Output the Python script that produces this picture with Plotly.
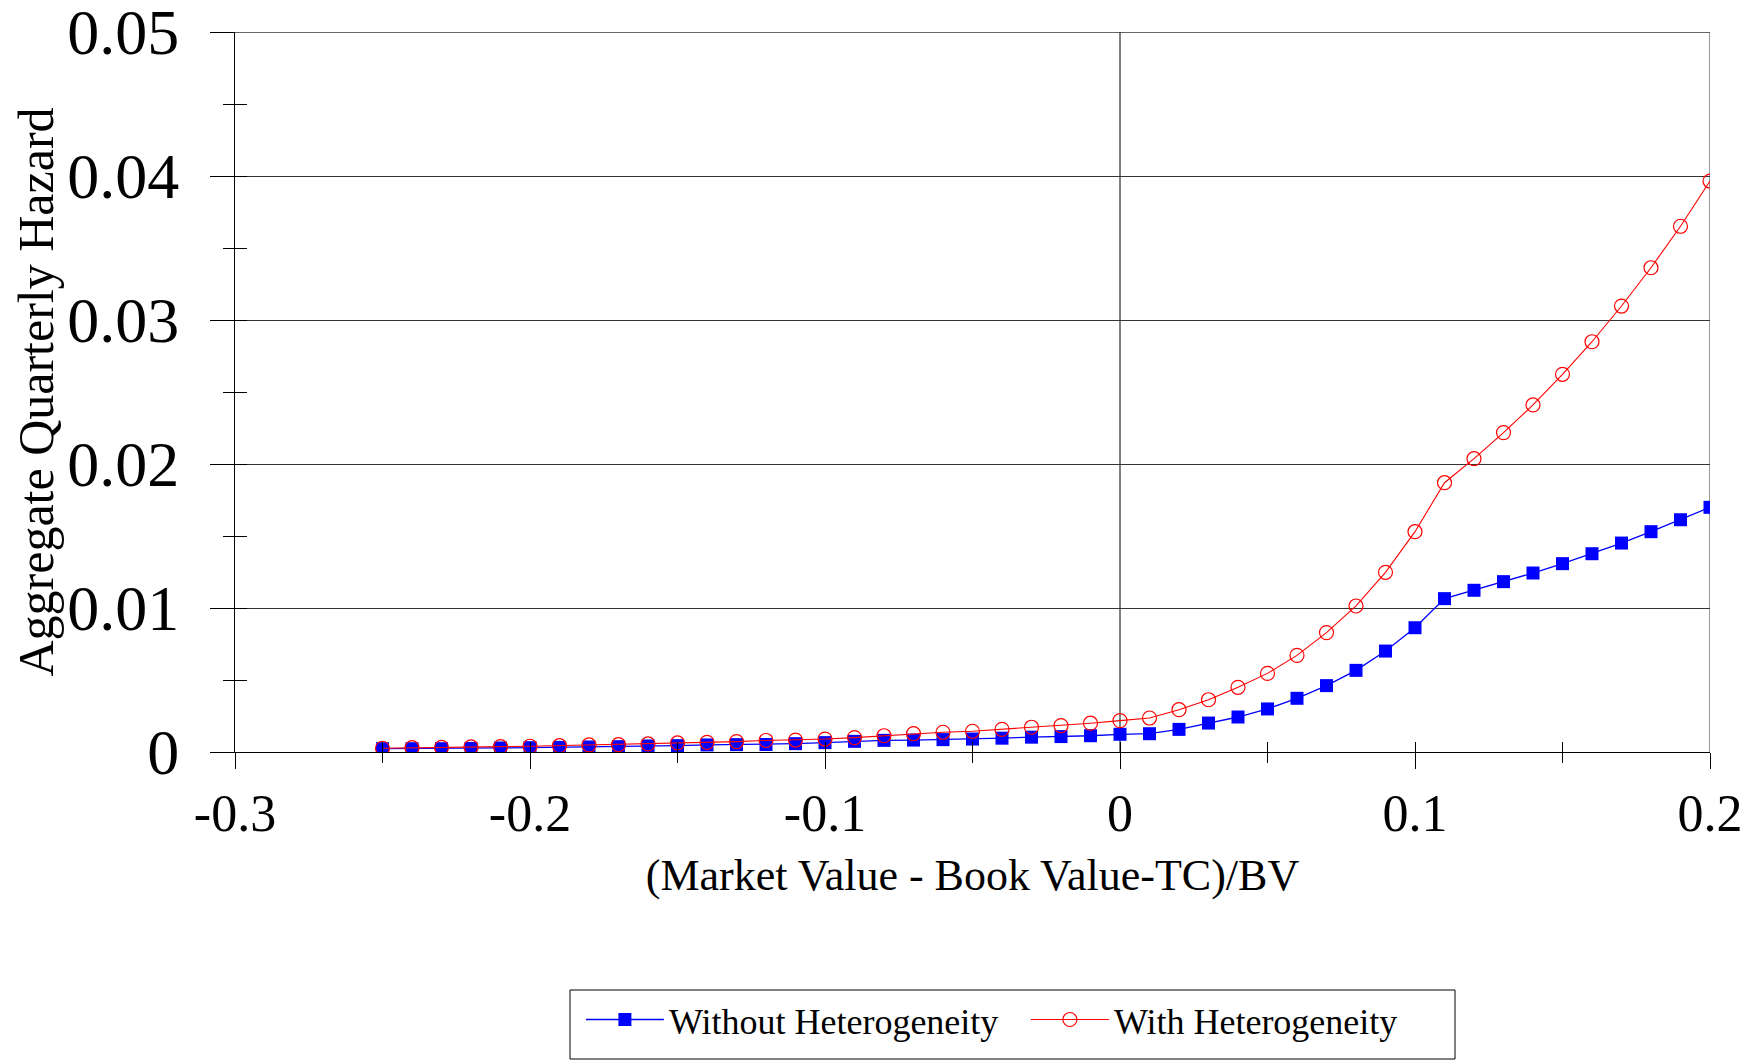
import plotly.graph_objects as go

x_vals = [-0.25, -0.24, -0.23, -0.22, -0.21, -0.20, -0.19, -0.18, -0.17, -0.16,
          -0.15, -0.14, -0.13, -0.12, -0.11, -0.10, -0.09, -0.08, -0.07, -0.06,
          -0.05, -0.04, -0.03, -0.02, -0.01, 0.00, 0.01, 0.02, 0.03, 0.04,
          0.05, 0.06, 0.07, 0.08, 0.09, 0.10, 0.11, 0.12, 0.13, 0.14,
          0.15, 0.16, 0.17, 0.18, 0.19, 0.20]

without_het = [0.00023, 0.00023, 0.00023, 0.00025, 0.00028, 0.00030, 0.00032, 0.00035, 0.00037, 0.00042,
               0.00044, 0.00049, 0.00051, 0.00052, 0.00058, 0.00065, 0.00074, 0.00081, 0.00083, 0.00086,
               0.00090, 0.00096, 0.00103, 0.00107, 0.00113, 0.00123, 0.00127, 0.00157, 0.00201, 0.00243,
               0.00299, 0.00373, 0.00461, 0.00567, 0.00701, 0.00863, 0.01065, 0.01123, 0.01183, 0.01243,
               0.01308, 0.01377, 0.01451, 0.01530, 0.01613, 0.01699]

with_het = [0.00026, 0.00030, 0.00032, 0.00035, 0.00037, 0.00040, 0.00044, 0.00049, 0.00051, 0.00056,
            0.00063, 0.00067, 0.00072, 0.00080, 0.00083, 0.00090, 0.00100, 0.00113, 0.00127, 0.00137,
            0.00144, 0.00157, 0.00172, 0.00183, 0.00200, 0.00218, 0.00236, 0.00294, 0.00363, 0.00449,
            0.00546, 0.00671, 0.00829, 0.01014, 0.01248, 0.01530, 0.01870, 0.02037, 0.02218, 0.02410,
            0.02623, 0.02849, 0.03097, 0.03363, 0.03651, 0.03965]

series_names = ["Without Heterogeneity", "With Heterogeneity"]

x_tick_vals = [-0.3, -0.2, -0.1, 0.0, 0.1, 0.2]
x_tick_text = ["-0.3", "-0.2", "-0.1", "0", "0.1", "0.2"]
y_tick_vals = [0.0, 0.01, 0.02, 0.03, 0.04, 0.05]
y_tick_text = ["0", "0.01", "0.02", "0.03", "0.04", "0.05"]

x_title = "(Market Value - Book Value-TC)/BV"
y_title = "Aggregate Quarterly Hazard"

FONT = "Liberation Serif, Times New Roman, serif"
XR = [-0.3, 0.2]
YR = [0.0, 0.0500001]

fig = go.Figure()
fig.add_trace(go.Scatter(
    x=x_vals, y=without_het, name=series_names[0], mode="lines+markers",
    line=dict(color="#0000FF", width=1.3),
    marker=dict(symbol="square", size=13, color="#0000FF", line=dict(width=0)),
))
fig.add_trace(go.Scatter(
    x=x_vals, y=with_het, name=series_names[1], mode="lines+markers",
    line=dict(color="#FF0000", width=1.1),
    marker=dict(symbol="circle-open", size=14, color="#FF0000", line=dict(width=1.2)),
))
# empty helper traces so the overlay axes (inner half of crossing ticks) get drawn
fig.add_trace(go.Scatter(x=[], y=[], xaxis="x2", yaxis="y", showlegend=False, hoverinfo="skip"))
fig.add_trace(go.Scatter(x=[], y=[], xaxis="x", yaxis="y2", showlegend=False, hoverinfo="skip"))

tickcommon = dict(tickcolor="black", tickwidth=1)

# page body has an 8px margin, so the figure is drawn 8px smaller and margins compensate
W, H = 1750, 1054
fig.update_layout(
    width=W, height=H,
    margin=dict(l=227, r=48, t=24, b=310),
    paper_bgcolor="white", plot_bgcolor="white",
    font=dict(family=FONT, color="black"),
    xaxis=dict(
        range=XR, tickmode="array", tickvals=x_tick_vals, ticktext=x_tick_text,
        ticks="outside", ticklen=16, **tickcommon,
        minor=dict(ticks="outside", ticklen=10, dtick=0.05, tick0=-0.3, tickcolor="black", tickwidth=1, showgrid=False),
        showline=True, linecolor="black", linewidth=1, mirror=False,
        showgrid=False, zeroline=False, automargin=False,
        tickfont=dict(size=52, family=FONT), ticklabeloverflow="allow",
        title=dict(text=x_title, font=dict(size=44, family=FONT), standoff=17),
    ),
    xaxis2=dict(
        range=XR, overlaying="x", anchor="y", side="bottom", automargin=False,
        tickmode="array", tickvals=x_tick_vals, ticktext=["" for _ in x_tick_vals],
        ticks="inside", ticklen=15, **tickcommon,
        minor=dict(ticks="inside", ticklen=10, dtick=0.05, tick0=-0.3, tickcolor="black", tickwidth=1, showgrid=False),
        showticklabels=False, showline=False, showgrid=False, zeroline=False,
    ),
    yaxis=dict(
        range=YR, tickmode="array", tickvals=y_tick_vals, ticktext=y_tick_text,
        ticks="outside", ticklen=24, **tickcommon,
        minor=dict(ticks="outside", ticklen=11, dtick=0.005, tick0=0, tickcolor="black", tickwidth=1, showgrid=False),
        showline=True, linecolor="black", linewidth=1,
        showgrid=True, gridcolor="#333333", gridwidth=1.2, zeroline=False, automargin=False,
        tickfont=dict(size=64, family=FONT), ticklabelstandoff=18, ticklabeloverflow="allow",
        title=dict(text=y_title, font=dict(size=50, family=FONT), standoff=10),
    ),
    yaxis2=dict(
        range=YR, overlaying="y", anchor="x", side="left", automargin=False,
        tickmode="array", tickvals=y_tick_vals, ticktext=["" for _ in y_tick_vals],
        ticks="inside", ticklen=22, **tickcommon,
        minor=dict(ticks="inside", ticklen=12, dtick=0.005, tick0=0, tickcolor="black", tickwidth=1, showgrid=False),
        showticklabels=False, showline=False, showgrid=False, zeroline=False,
    ),
    legend=dict(
        orientation="h", x=0.2345, xanchor="left", y=-0.33, yanchor="top",
        borderwidth=0, bgcolor="rgba(0,0,0,0)",
        font=dict(size=36, family=FONT), itemwidth=78, tracegroupgap=0,
        entrywidth=352, entrywidthmode="pixels",
    ),
    shapes=[
        dict(type="line", xref="x", yref="y", x0=0, x1=0, y0=0, y1=0.05,
             line=dict(color="black", width=1), layer="below"),
        dict(type="line", xref="x", yref="y", x0=0.2, x1=0.2, y0=0, y1=0.05,
             line=dict(color="#777777", width=1.5), layer="below"),
        dict(type="line", xref="x", yref="y", x0=-0.3, x1=0.2, y0=0.05, y1=0.05,
             line=dict(color="#333333", width=1.4), layer="below"),
        dict(type="rect", xref="paper", yref="paper",
             x0=(570 - 235) / 1475, x1=(1455 - 235) / 1475,
             y0=(752 - 1059) / 720, y1=(752 - 990) / 720,
             line=dict(color="black", width=1), fillcolor="rgba(0,0,0,0)"),
    ],
    showlegend=True,
)

fig.write_html("out.html")
